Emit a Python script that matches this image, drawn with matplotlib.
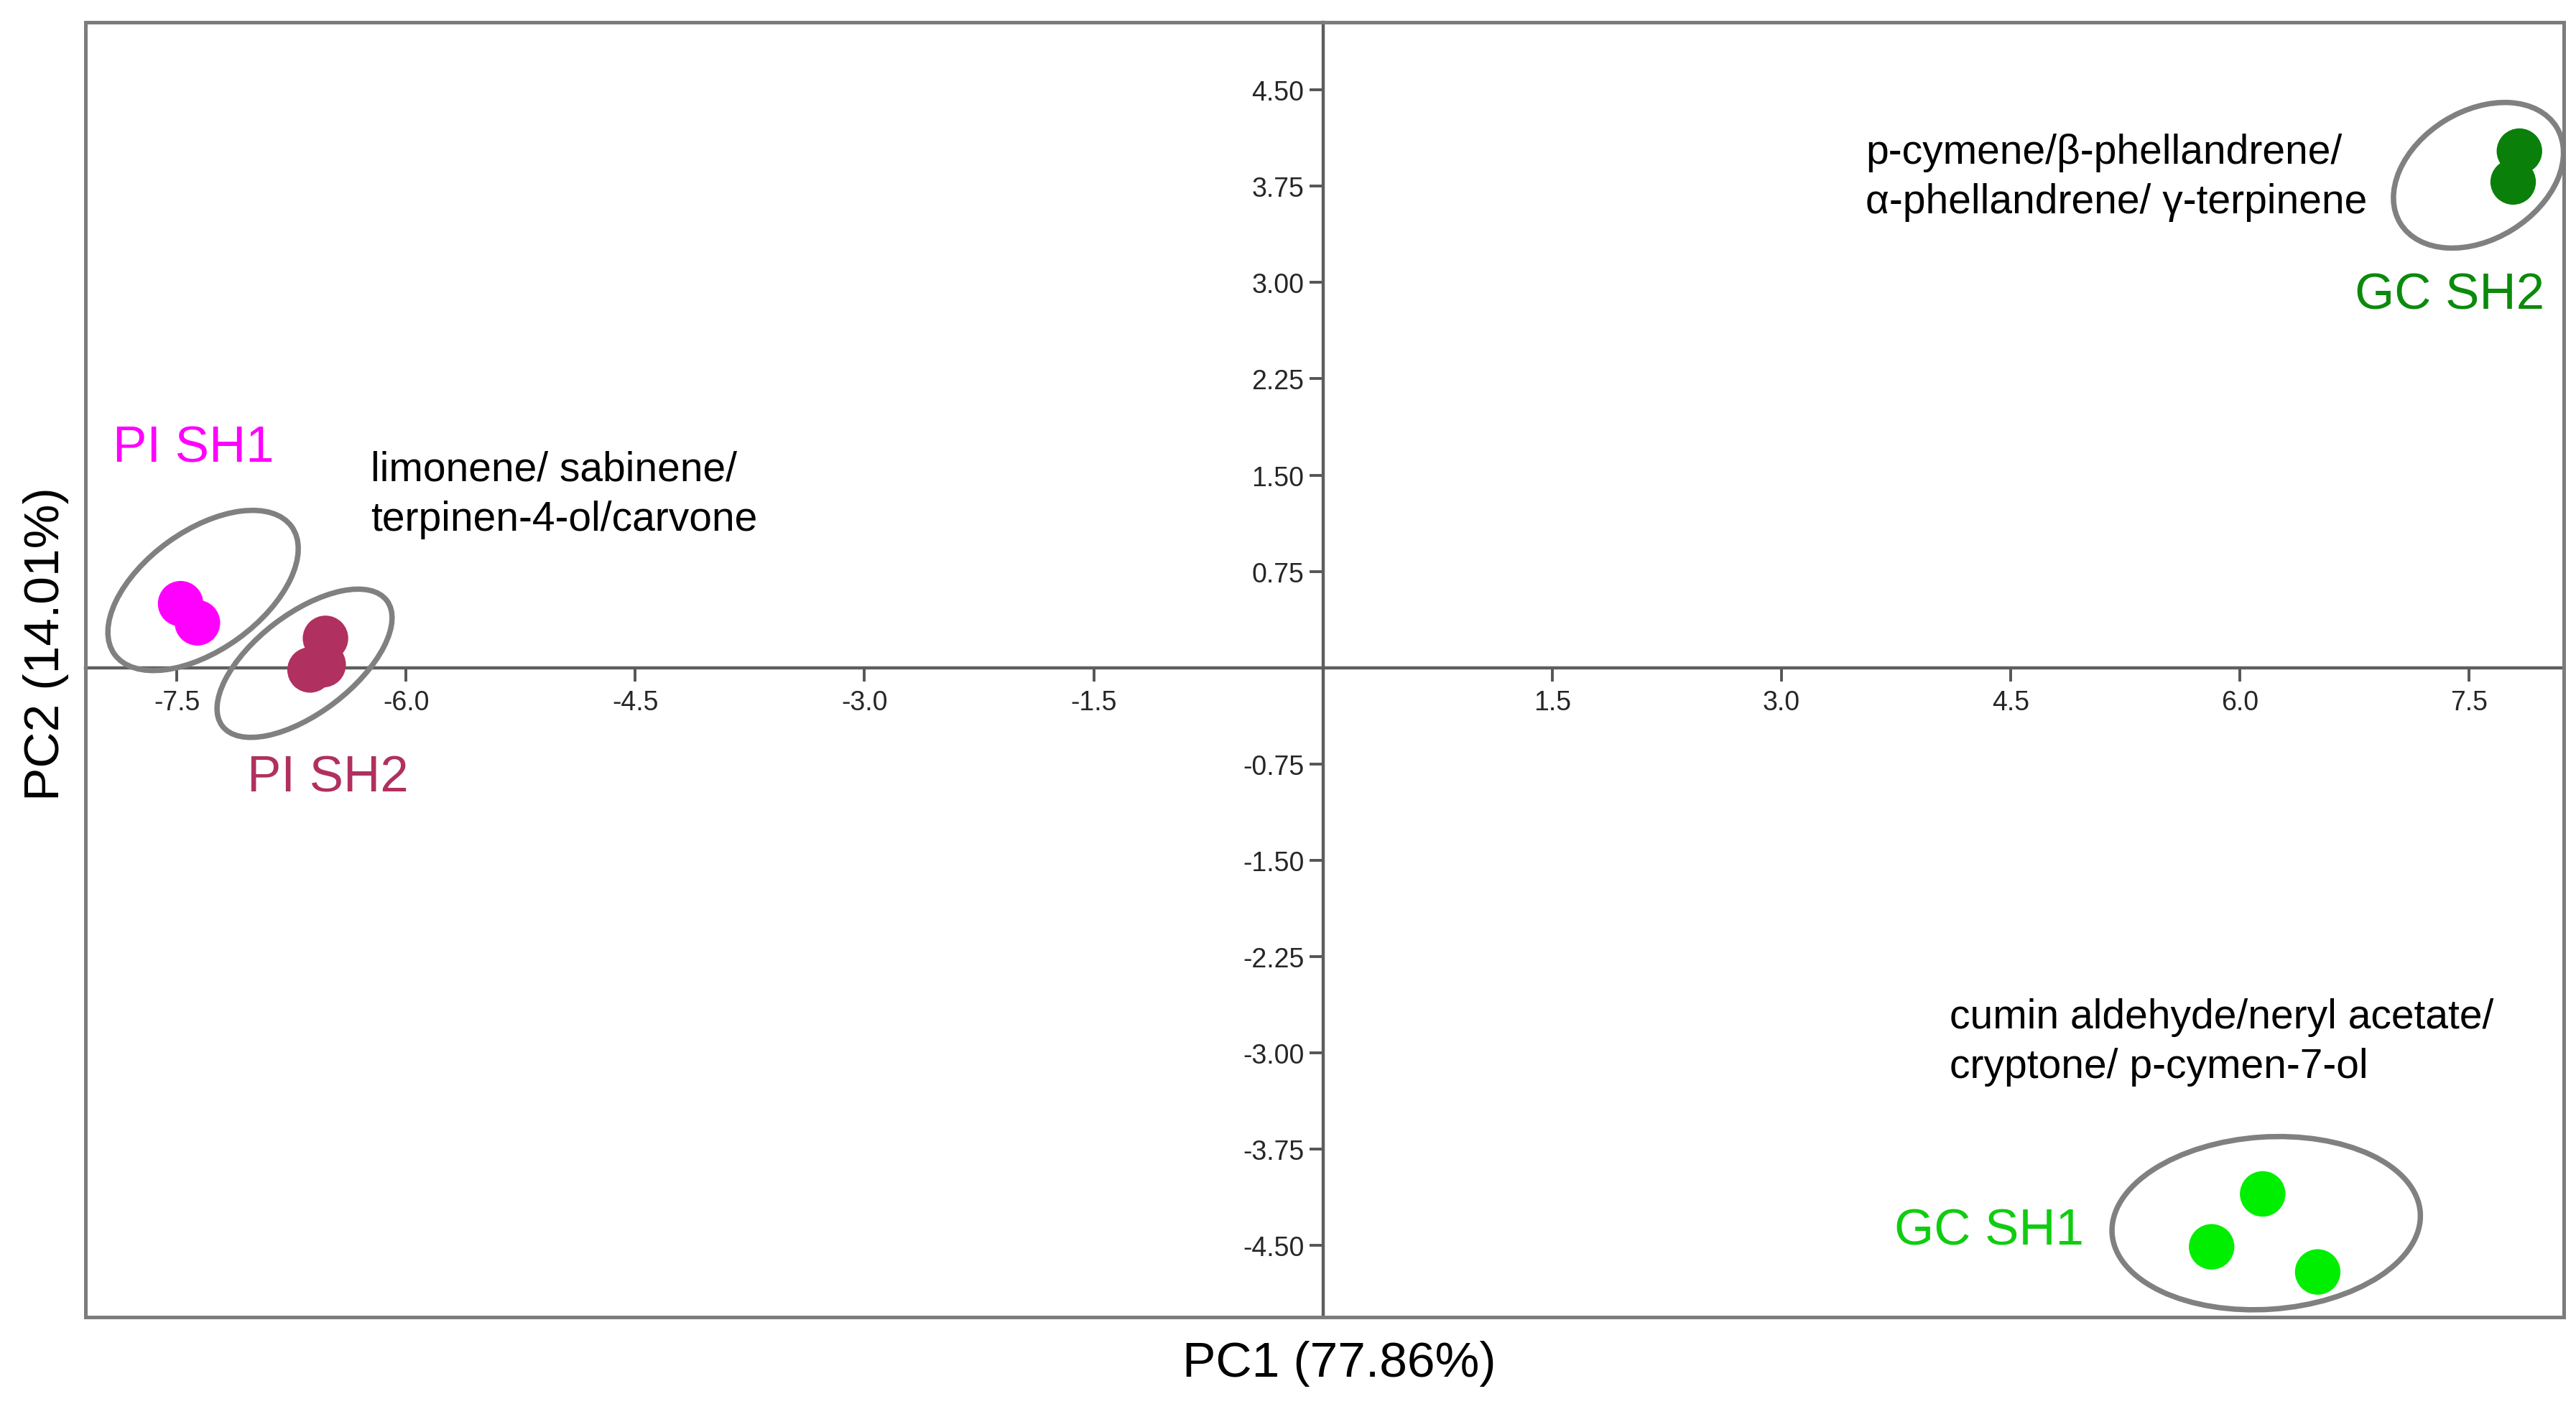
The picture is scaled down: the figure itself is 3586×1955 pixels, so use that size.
import matplotlib
matplotlib.use('Agg')
import matplotlib.pyplot as plt
import matplotlib.transforms as mtransforms
from matplotlib.patches import Ellipse, Rectangle

plt.rcParams['font.family'] = ['Liberation Sans', 'DejaVu Sans']

# PCA scores (PC1, PC2) per sample group
groups = ['PI SH1', 'PI SH2', 'GC SH2', 'GC SH1']
colors = ['#FF00FF', '#B0305F', '#0A800A', '#00EE00']
label_colors = ['#FF00FF', '#B0305F', '#0B8A0B', '#10CC10']
pc1 = [[-7.475, -7.365], [-6.527, -6.628, -6.542], [7.829, 7.788], [6.149, 5.815, 6.509]]
pc2 = [[0.499, 0.350], [0.229, -0.017, 0.024], [4.023, 3.783], [-4.097, -4.509, -4.705]]

label_x = [-7.92, -7.04, 6.75, 3.74]
label_y = [1.71, -0.86, 2.90, -4.39]

# grouping ellipses: centre in data units, size in inches, angle in degrees
ell_x = [-7.328, -6.664, 7.561, 6.172]
ell_y = [0.602, 0.035, 3.835, -4.325]
ell_w = [1.52, 1.44, 1.277, 2.15]
ell_h = [0.83, 0.69, 0.893, 1.20]
ell_ang = [35.8, 37.4, 31.7, 3.9]

compounds = ['limonene/ sabinene/\nterpinen-4-ol/carvone',
             'p-cymene/β-phellandrene/\nα-phellandrene/ γ-terpinene',
             'cumin aldehyde/neryl acetate/\ncryptone/ p-cymen-7-ol']
comp_x = [-6.23, 3.55, 4.10]
comp_y = [1.35, 3.82, -2.91]

xticks = [-7.5, -6.0, -4.5, -3.0, -1.5, 1.5, 3.0, 4.5, 6.0, 7.5]
yticks = [-4.5, -3.75, -3.0, -2.25, -1.5, -0.75, 0.75, 1.5, 2.25, 3.0, 3.75, 4.5]

fig = plt.figure(figsize=(17.935, 9.78), dpi=200)
ax = fig.add_axes([0.0332, 0.062, 0.9617, 0.9216])
ax.set_xlim(-8.097, 8.118)
ax.set_ylim(-5.055, 5.026)

# axes through the origin
for s in ['top', 'right']:
    ax.spines[s].set_visible(False)
for s in ['left', 'bottom']:
    ax.spines[s].set_position('zero')
    ax.spines[s].set_color('#5e5e5e')
    ax.spines[s].set_linewidth(1.6)
ax.set_xticks(xticks)
ax.set_xticklabels(['%.1f' % v for v in xticks])
ax.set_yticks(yticks)
ax.set_yticklabels(['%.2f' % v for v in yticks])
ax.tick_params(length=7, width=1.4, color='#555555', labelsize=13.5,
               labelcolor='#262626', pad=2.5)
ax.tick_params(axis='x', pad=4)

# outer frame
ax.add_patch(Rectangle((0, 0), 1, 1, transform=ax.transAxes, fill=False,
                       ec='#7c7c7c', lw=1.8, clip_on=False, zorder=5))

for i in range(len(groups)):
    ax.scatter(pc1[i], pc2[i], s=520, color=colors[i], edgecolors='none', zorder=3)
    ax.text(label_x[i], label_y[i], groups[i], color=label_colors[i],
            fontsize=25.5, ha='left', va='center')
    tr = fig.dpi_scale_trans + mtransforms.ScaledTranslation(ell_x[i], ell_y[i], ax.transData)
    ax.add_patch(Ellipse((0, 0), ell_w[i], ell_h[i], angle=ell_ang[i], transform=tr,
                         fill=False, ec='#808080', lw=2.7, zorder=4))

for i in range(len(compounds)):
    ax.text(comp_x[i], comp_y[i], compounds[i], fontsize=20.5, ha='left', va='center',
            linespacing=1.36, color='black')

fig.text(0.5198, 0.0292, 'PC1 (77.86%)', fontsize=25, ha='center', va='center')
fig.text(0.0179, 0.5415, 'PC2 (14.01%)', fontsize=25, ha='center', va='center', rotation=90)

fig.savefig('out.png', dpi=200)
